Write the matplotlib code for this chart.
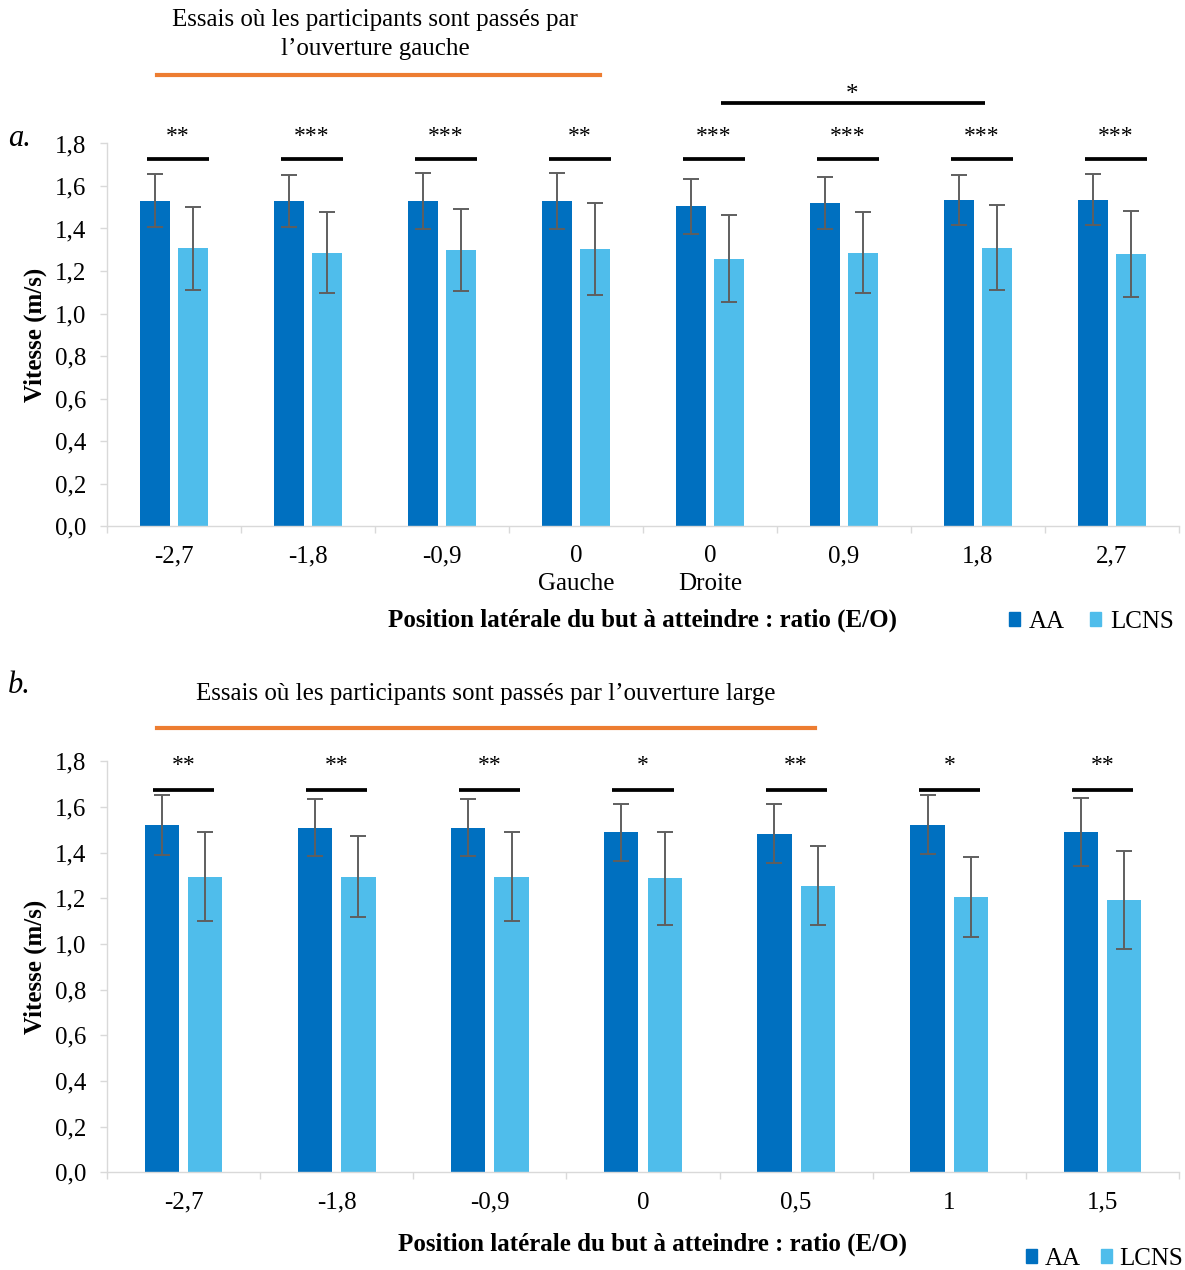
import numpy as np
import matplotlib
matplotlib.use("Agg")
import matplotlib.pyplot as plt
from matplotlib.lines import Line2D
from matplotlib.patches import Patch
from matplotlib.ticker import FuncFormatter

plt.rcParams["font.family"] = ["Liberation Serif", "DejaVu Serif"]

# panel a : gauche / droite
labels_a = ["-2,7", "-1,8", "-0,9", "0\nGauche", "0\nDroite", "0,9", "1,8", "2,7"]
aa_a = [1.53, 1.53, 1.53, 1.53, 1.505, 1.52, 1.535, 1.535]
aa_a_err = [0.125, 0.122, 0.132, 0.13, 0.13, 0.124, 0.117, 0.12]
lcns_a = [1.307, 1.287, 1.298, 1.303, 1.258, 1.287, 1.31, 1.28]
lcns_a_err = [0.196, 0.192, 0.193, 0.215, 0.205, 0.19, 0.2, 0.203]
sig_a = ["**", "***", "***", "**", "***", "***", "***", "***"]

# panel b : ouverture large
labels_b = ["-2,7", "-1,8", "-0,9", "0", "0,5", "1", "1,5"]
aa_b = [1.52, 1.51, 1.51, 1.49, 1.482, 1.523, 1.49]
aa_b_err = [0.131, 0.126, 0.125, 0.125, 0.129, 0.128, 0.148]
lcns_b = [1.294, 1.294, 1.294, 1.287, 1.256, 1.206, 1.191]
lcns_b_err = [0.195, 0.178, 0.195, 0.204, 0.173, 0.174, 0.214]
sig_b = ["**", "**", "**", "*", "**", "*", "**"]

AA_COLOR = "#0070C0"
LCNS_COLOR = "#4FBDEB"
AXIS_GRAY = "#D9D9D9"
ORANGE = "#ED7D31"
FS = 18

W, H = 1185, 1270


def fx(px):
    return px / W


def fy(py):
    return 1 - py / H


def draw_panel(ax, labels, aa, aa_err, lcns, lcns_err, sig, sig_y, star_y, sig_shift, sig_half):
    x = np.arange(len(labels))
    off, width = 0.142, 0.224
    err_kw = dict(ecolor="#5F5F5F", elinewidth=1.4, capsize=5.5, capthick=1.4)
    ax.bar(x - off, aa, width, color=AA_COLOR, yerr=aa_err, error_kw=err_kw)
    ax.bar(x + off, lcns, width, color=LCNS_COLOR, yerr=lcns_err, error_kw=err_kw)

    ax.set_xlim(-0.5, len(labels) - 0.5)
    ax.set_ylim(0, 1.8)
    ax.set_yticks([i * 0.2 for i in range(10)])
    ax.yaxis.set_major_formatter(FuncFormatter(lambda v, p: f"{v:.1f}".replace(".", ",")))
    ax.set_xticks(x)
    ax.set_xticklabels(labels, linespacing=1.3)
    ax.set_xticks(np.arange(len(labels) + 1) - 0.5, minor=True)
    ax.tick_params(axis="x", which="major", length=0, pad=14, labelsize=FS)
    ax.tick_params(axis="x", which="minor", length=5, color=AXIS_GRAY, width=1)
    ax.tick_params(axis="y", length=5, color=AXIS_GRAY, width=1, pad=10, labelsize=FS)
    for s in ["top", "right"]:
        ax.spines[s].set_visible(False)
    for s in ["left", "bottom"]:
        ax.spines[s].set_color(AXIS_GRAY)
        ax.spines[s].set_linewidth(1)

    # significance markers above each pair
    for i, s in enumerate(sig):
        c = i + sig_shift
        ax.plot([c - sig_half, c + sig_half], [sig_y, sig_y], color="black", lw=2.7,
                solid_capstyle="butt", clip_on=False)
        ax.text(c, star_y, s, ha="center", va="center", fontsize=17, clip_on=False)


fig = plt.figure(figsize=(W / 100, H / 100), dpi=100)

ax_a = fig.add_axes([fx(107), fy(526), fx(1179) - fx(107), (526 - 143.5) / H])
draw_panel(ax_a, labels_a, aa_a, aa_a_err, lcns_a, lcns_a_err, sig_a,
           sig_y=1.727, star_y=1.834, sig_shift=0.03, sig_half=0.23)
# comparison droite 0 vs 1,8
ax_a.plot([4.08, 6.05], [1.99, 1.99], color="black", lw=2.7, solid_capstyle="butt", clip_on=False)
ax_a.text(5.06, 2.03, "*", ha="center", va="center", fontsize=18, clip_on=False)

ax_b = fig.add_axes([fx(107), fy(1172.3), fx(1179) - fx(107), (1172.3 - 761.3) / H])
draw_panel(ax_b, labels_b, aa_b, aa_b_err, lcns_b, lcns_b_err, sig_b,
           sig_y=1.674, star_y=1.783, sig_shift=0.0, sig_half=0.2)

# titles and orange brackets
fig.text(fx(375), fy(34.5), "Essais où les participants sont passés par\nl’ouverture gauche",
         ha="center", va="center", fontsize=FS, linespacing=1.4)
fig.add_artist(Line2D([fx(157), fx(600)], [fy(75), fy(75)], color=ORANGE, lw=3))
fig.text(fx(486), fy(694), "Essais où les participants sont passés par l’ouverture large",
         ha="center", va="center", fontsize=FS)
fig.add_artist(Line2D([fx(157), fx(815)], [fy(728), fy(728)], color=ORANGE, lw=3))

fig.text(fx(8), fy(139), "a.", style="italic", fontsize=22, ha="left", va="center")
fig.text(fx(8), fy(686), "b.", style="italic", fontsize=22, ha="left", va="center")

xlab = "Position latérale du but à atteindre : ratio (E/O)"
fig.text(fx(643), fy(620), xlab, ha="center", va="center", fontsize=FS, fontweight="bold")
fig.text(fx(653), fy(1244), xlab, ha="center", va="center", fontsize=FS, fontweight="bold")
fig.text(fx(35), fy(335), "Vitesse (m/s)", rotation=90, ha="center", va="center",
         fontsize=FS, fontweight="bold")
fig.text(fx(35), fy(967), "Vitesse (m/s)", rotation=90, ha="center", va="center",
         fontsize=FS, fontweight="bold")

handles = [Patch(color=AA_COLOR, label="AA"), Patch(color=LCNS_COLOR, label="LCNS")]
fig.legend(handles=handles, loc="center left", bbox_to_anchor=(fx(1009), fy(622)), ncol=2,
           frameon=False, fontsize=FS, handlelength=0.45, handleheight=0.45,
           handletextpad=0.35, columnspacing=1.0, borderpad=0, borderaxespad=0)
fig.legend(handles=handles, loc="center right", bbox_to_anchor=(fx(1183), fy(1259)), ncol=2,
           frameon=False, fontsize=FS, handlelength=0.45, handleheight=0.45,
           handletextpad=0.3, columnspacing=0.8, borderpad=0, borderaxespad=0)

fig.savefig("out.png", dpi=100)
